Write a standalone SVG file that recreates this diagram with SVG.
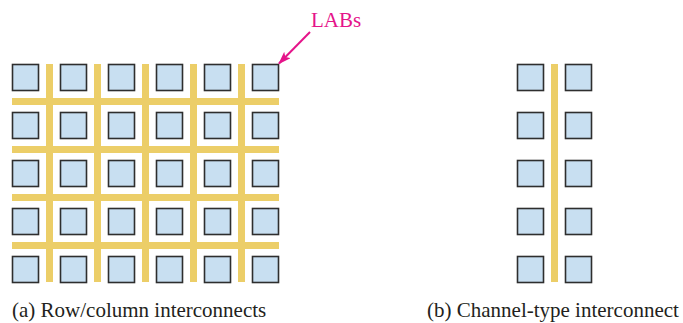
<svg xmlns="http://www.w3.org/2000/svg" width="683" height="323" viewBox="0 0 683 323">
<defs>
<style>
.lab{fill:#c8dff1;stroke:#2e2e2e;stroke-width:1.6}
.bus{fill:#ecce68}
.t{font-family:"Liberation Serif","Times New Roman",serif;font-size:21px;fill:#231f20}
.pink{fill:#e5148a}
</style>
<marker id="ah" markerWidth="13" markerHeight="9" refX="12" refY="4.5" orient="auto" markerUnits="userSpaceOnUse">
<path d="M0,0 L13,4.5 L0,9 L3,4.5 Z" fill="#e5148a"/>
</marker>
<rect id="box" class="lab" x="0" y="0" width="26" height="26"/>
</defs>
<rect width="683" height="323" fill="#ffffff"/>

<g id="buses-a">
<rect class="bus" x="12" y="98" width="267" height="7"/>
<rect class="bus" x="12" y="146" width="267" height="7"/>
<rect class="bus" x="12" y="194" width="267" height="7"/>
<rect class="bus" x="12" y="242" width="267" height="7"/>
<rect class="bus" x="46" y="64" width="7" height="218"/>
<rect class="bus" x="94" y="64" width="7" height="218"/>
<rect class="bus" x="142" y="64" width="7" height="218"/>
<rect class="bus" x="190" y="64" width="7" height="218"/>
<rect class="bus" x="238" y="64" width="7" height="218"/>
</g>

<g id="labs-a">
<use href="#box" x="12.5" y="64.5"/><use href="#box" x="60.5" y="64.5"/><use href="#box" x="108.5" y="64.5"/><use href="#box" x="156.5" y="64.5"/><use href="#box" x="204.5" y="64.5"/><use href="#box" x="252.5" y="64.5"/>
<use href="#box" x="12.5" y="112.5"/><use href="#box" x="60.5" y="112.5"/><use href="#box" x="108.5" y="112.5"/><use href="#box" x="156.5" y="112.5"/><use href="#box" x="204.5" y="112.5"/><use href="#box" x="252.5" y="112.5"/>
<use href="#box" x="12.5" y="160.5"/><use href="#box" x="60.5" y="160.5"/><use href="#box" x="108.5" y="160.5"/><use href="#box" x="156.5" y="160.5"/><use href="#box" x="204.5" y="160.5"/><use href="#box" x="252.5" y="160.5"/>
<use href="#box" x="12.5" y="208.5"/><use href="#box" x="60.5" y="208.5"/><use href="#box" x="108.5" y="208.5"/><use href="#box" x="156.5" y="208.5"/><use href="#box" x="204.5" y="208.5"/><use href="#box" x="252.5" y="208.5"/>
<use href="#box" x="12.5" y="256.5"/><use href="#box" x="60.5" y="256.5"/><use href="#box" x="108.5" y="256.5"/><use href="#box" x="156.5" y="256.5"/><use href="#box" x="204.5" y="256.5"/><use href="#box" x="252.5" y="256.5"/>
</g>

<g id="buses-b">
<rect class="bus" x="551" y="64" width="7" height="218"/>
</g>

<g id="labs-b">
<use href="#box" x="517.5" y="64.5"/><use href="#box" x="565.5" y="64.5"/>
<use href="#box" x="517.5" y="112.5"/><use href="#box" x="565.5" y="112.5"/>
<use href="#box" x="517.5" y="160.5"/><use href="#box" x="565.5" y="160.5"/>
<use href="#box" x="517.5" y="208.5"/><use href="#box" x="565.5" y="208.5"/>
<use href="#box" x="517.5" y="256.5"/><use href="#box" x="565.5" y="256.5"/>
</g>

<g id="connectors">
<line x1="310" y1="32" x2="279" y2="63.5" stroke="#e5148a" stroke-width="2" marker-end="url(#ah)"/>
</g>

<g id="label-labs">
<text class="t pink" x="311" y="26.5">LABs</text>
</g>
<g id="caption-a">
<text class="t" x="12" y="317">(a) Row/column interconnects</text>
</g>
<g id="caption-b">
<text class="t" x="427" y="317">(b) Channel-type interconnect</text>
</g>
</svg>
